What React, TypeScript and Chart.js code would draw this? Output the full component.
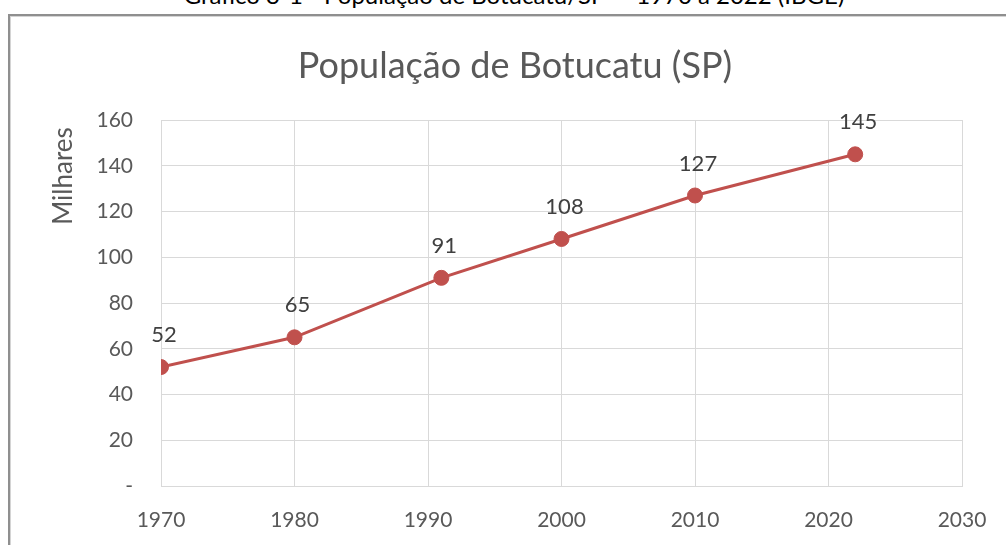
import React, { useEffect, useRef } from "react";
import { Chart, registerables } from "chart.js";

Chart.register(...registerables);

const years = [1970, 1980, 1991, 2000, 2010, 2022];
const population = [52, 65, 91, 108, 127, 145];
const dataLabels = ["52", "65", "91", "108", "127", "145"];
const yTicks = [0, 20, 40, 60, 80, 100, 120, 140, 160];
const xTicks = [1970, 1980, 1990, 2000, 2010, 2020, 2030];

const chartTitle = "População de Botucatu (SP)";
const yTitle = "Milhares";
const caption = "Gráfico 3-1 - População de Botucatu/SP — 1970 a 2022 (IBGE)";

const FONT = "Lato, 'Open Sans', sans-serif";

const labelsPlugin = {
  id: "customText",
  afterDatasetsDraw(chart: any) {
    const ctx = chart.ctx;
    const meta = chart.getDatasetMeta(0);
    ctx.save();
    ctx.fillStyle = "#404040";
    ctx.font = `22px ${FONT}`;
    ctx.textAlign = "center";
    ctx.textBaseline = "middle";
    meta.data.forEach((pt: any, i: number) => {
      ctx.fillText(dataLabels[i], pt.x + 3, pt.y - 32);
    });
    ctx.restore();
  },
  afterDraw(chart: any) {
    const ctx = chart.ctx;
    ctx.save();
    ctx.fillStyle = "#595959";
    ctx.font = `36px ${FONT}`;
    ctx.textAlign = "center";
    ctx.textBaseline = "middle";
    ctx.fillText(chartTitle, 515, 66);
    ctx.translate(64, 176);
    ctx.rotate(-Math.PI / 2);
    ctx.font = `26px ${FONT}`;
    ctx.fillText(yTitle, 0, 0);
    ctx.restore();
  },
};

export default function App() {
  const ref = useRef<HTMLCanvasElement>(null);
  useEffect(() => {
    if (!ref.current) return;
    const chart = new Chart(ref.current, {
      type: "line",
      data: {
        datasets: [
          {
            data: years.map((y, i) => ({ x: y, y: population[i] })),
            borderColor: "#c0504d",
            backgroundColor: "#c0504d",
            borderWidth: 3,
            pointRadius: 7.5,
            pointBorderWidth: 1,
            pointBackgroundColor: "#c0504d",
            pointBorderColor: "#c0504d",
            tension: 0,
          },
        ],
      },
      options: {
        responsive: false,
        animation: false,
        layout: { padding: { left: 0, right: 44, top: 120, bottom: 0 } },
        plugins: { legend: { display: false }, tooltip: { enabled: false }, title: { display: false } },
        scales: {
          x: {
            type: "linear",
            min: 1970,
            max: 2030,
            afterBuildTicks: (s: any) => {
              s.ticks = xTicks.map((v) => ({ value: v }));
            },
            afterFit: (s: any) => {
              s.height = 59;
              s.paddingLeft = 0;
              s.paddingRight = 0;
            },
            grid: { color: "#d9d9d9", lineWidth: 1, drawTicks: false },
            border: { color: "#d9d9d9", width: 1 },
            ticks: {
              padding: 22,
              color: "#595959",
              font: { family: FONT, size: 21 },
              maxRotation: 0,
              autoSkip: false,
              callback: (v: any) => String(v),
            },
          },
          y: {
            min: 0,
            max: 160,
            afterBuildTicks: (s: any) => {
              s.ticks = yTicks.map((v) => ({ value: v }));
            },
            afterFit: (s: any) => {
              s.width = 161;
              s.paddingTop = 0;
              s.paddingBottom = 0;
            },
            grid: { color: "#d9d9d9", lineWidth: 1, drawTicks: false },
            border: { color: "#d9d9d9", width: 1 },
            ticks: {
              padding: 28,
              color: "#595959",
              font: { family: FONT, size: 21 },
              callback: (v: any) => (v === 0 ? "-" : String(v)),
            },
          },
        },
      },
      plugins: [labelsPlugin],
    });
    return () => chart.destroy();
  }, []);

  return (
    <div style={{ position: "fixed", left: 0, top: 0, width: 1006, height: 545, overflow: "hidden", background: "#fff" }}>
      <div
        style={{
          position: "absolute",
          left: 8,
          top: 14,
          width: 1100,
          height: 700,
          border: "2px solid #8f8f8f",
          boxShadow: "inset 1px 1px 0 #d4d4d4",
        }}
      />
      <div
        style={{
          position: "absolute",
          left: 0,
          width: 1028,
          top: -17,
          textAlign: "center",
          fontFamily: FONT,
          fontSize: 24,
          lineHeight: "24px",
          color: "#000",
          whiteSpace: "nowrap",
        }}
      >
        {caption}
      </div>
      <canvas ref={ref} width={1006} height={545} style={{ position: "absolute", left: 0, top: 0 }} />
    </div>
  );
}
